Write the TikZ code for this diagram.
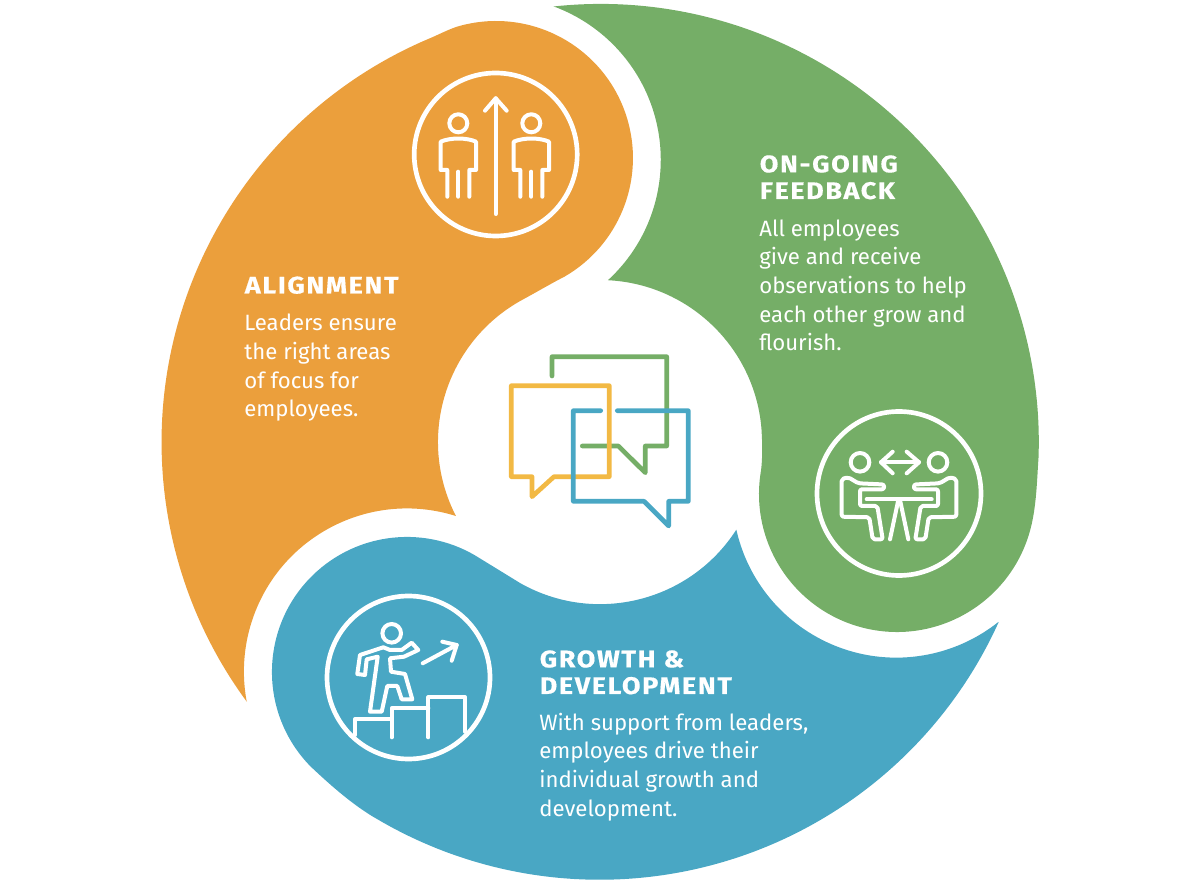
\documentclass[tikz,border=0pt]{standalone}
\usepackage{fontspec}
\setmainfont{Fira Sans}
\newfontfamily\headfont[LetterSpace=7,FakeStretch=1.12,FakeBold=0.5]{Fira Sans Bold}
\definecolor{cOrange}{HTML}{EB9F3C}
\definecolor{cGreen}{HTML}{75AE67}
\definecolor{cBlue}{HTML}{49A7C4}
\definecolor{cYellow}{HTML}{F2B944}
\tikzset{
  icon/.style={draw=white,line width=2.4pt,line join=round,line cap=round,fill=none},
  ring/.style={draw=white,line width=2.8pt,fill=none},
  bubble/.style={line width=2.8pt,line join=round,line cap=round,fill=none},
  headtext/.style={text=white,anchor=base west,inner sep=0pt,align=left,font=\headfont\fontsize{14.4}{16}\selectfont},
  bodytext/.style={text=white,anchor=base west,inner sep=0pt,align=left,font=\fontsize{13.3}{17.2}\selectfont}
}
\begin{document}
\begin{tikzpicture}[x=0.6pt,y=-0.6pt]
\useasboundingbox (0,0) rectangle (1200,884);
% orange
\fill[cOrange] (247,702)
  arc[start angle=143.6,end angle=247,radius=438]
  .. controls (438,35) and (451,28) .. (460.5,25.7)
  arc[start angle=255,end angle=420,radius=137]
  .. controls (552,283) and (535,293) .. (522.7,299.6)
  arc[start angle=241.5,end angle=152.8,radius=162]
  arc[start angle=-72.5,end angle=-190.6,radius=163]
  -- cycle;
% green
\fill[cGreen] (553.5,6.5)
  arc[start angle=-96.2,end angle=2,radius=438]
  .. controls (1036.9,481) and (1036.5,506.5) .. (1030.3,529.7)
  arc[start angle=15,end angle=190,radius=138]
  .. controls (762.5,458) and (762.5,445) .. (761.4,427.9)
  arc[start angle=-5,end angle=-87.2,radius=162]
  arc[start angle=47.4,end angle=-69.3,radius=163.5]
  -- cycle;
% blue
\fill[cBlue] (998.7,622)
  arc[start angle=24.3,end angle=120.5,radius=438]
  .. controls (352,805) and (326,781) .. (310.5,766.4)
  arc[start angle=135.6,end angle=303,radius=135]
  .. controls (494,567) and (507,575) .. (520,583)
  arc[start angle=119.6,end angle=32.7,radius=162]
  arc[start angle=167.3,end angle=51.7,radius=164]
  -- cycle;
% centre bubbles
\draw[bubble,cGreen] (552,376) -- (552,356.7) -- (666.7,356.7) -- (666.7,446) -- (645.3,446) -- (645.3,472.7) -- (618.3,446) -- (582.3,446);
\draw[bubble,cYellow] (511.3,385.7) -- (609.3,385.7) -- (609.3,476.7) -- (554,476.7) -- (532,496.7) -- (532,476.7) -- (511.3,476.7) -- cycle;
\draw[bubble,cBlue] (600.7,410.7) -- (573.3,410.7) -- (573.3,501.3) -- (644,501.3) -- (668.7,526) -- (668.7,501.3) -- (688.3,501.3) -- (688.3,410.7) -- (617.3,410.7);
% alignment icon
\draw[ring] (495.7,154.5) circle[radius=81.5];
\draw[icon] (495.7,214) -- (495.7,98.3);
\draw[icon] (485,110.7) -- (495.7,98.3) -- (506.7,110.7);
\foreach \dx in {0,73}{
  \begin{scope}[shift={(\dx,0)}]
    \draw[icon] (458.3,123.3) circle[radius=9];
    \draw[icon] (447.3,196.7) -- (447.3,170) -- (440.7,170) -- (440.7,141.7) .. controls (450,137.5) and (467,137.5) .. (476,141.7) -- (476,170) -- (469.3,170) -- (469.3,196.7);
    \draw[icon] (458.3,171.7) -- (458.3,196.7);
  \end{scope}
}
% feedback icon
\draw[ring] (899,493.5) circle[radius=82];
\draw[icon] (881,462.3) -- (919,462.3);
\draw[icon] (892.7,451.7) -- (881,462.3) -- (892.7,473.3);
\draw[icon] (906.7,451.7) -- (919,462.3) -- (906.7,473.3);
\draw[icon] (866.7,499.3) -- (931.7,499.3);
\draw[icon] (890,539.3) -- (898.3,500);
\draw[icon] (908.3,539.3) -- (900,500);
\foreach \s in {1,-1}{
  \begin{scope}[shift={(899,0)},xscale=\s]
    \draw[icon] (-39,462.3) circle[radius=9.3];
    \draw[icon,rounded corners=1.2pt] (-50.7,477.3) -- (-57.3,479) -- (-57.3,516.7) -- (-29.7,517.3) -- (-26.3,539.3) -- (-16.3,539.3) -- (-21.7,506) -- (-39,506) -- (-39,489.3) -- (-15,489.3) -- (-15,484.5) -- (-40.7,483.3) -- cycle;
  \end{scope}
}
% growth icon
\draw[ring] (408.5,677.5) circle[radius=81.5];
\draw[icon] (391.7,633.3) circle[radius=9.3];
\draw[icon] (383.3,647.3) -- (360,655) -- (357.3,674) -- (365,675) -- (366.7,659.3) -- (377.7,656.7) -- (370,711.7) -- (381.7,711.7) -- (387.3,686) -- (397.3,686) -- (401.7,699.3) -- (412.3,699.3) -- (405,674) -- (391,671.7) -- (390,658.3) -- (404,656.7) -- (418.3,650) -- (411.7,642.7) -- (401.7,650) -- (390,650) -- cycle;
\draw[icon] (422.7,663.3) -- (456.7,645);
\draw[icon] (442.3,641.7) -- (456.7,645) -- (451.7,660.7);
\draw[icon] (355,735) -- (355,719.3) -- (391.7,719.3);
\draw[icon] (391.7,737.3) -- (391.7,708.3) -- (428.3,708.3);
\draw[icon] (428.3,737.3) -- (428.3,697.3) -- (465,697.3) -- (465,731.7);
% text
\node[headtext] (alignhead) at (244.5,293.5) {ALIGNMENT};
\node[bodytext] (alignbody) at (244,416.7) {Leaders ensure\\the right areas\\of focus for\\employees.};
\node[headtext] (feedhead) at (759.5,199) {ON-GOING\\FEEDBACK};
\node[bodytext] (feedbody) at (759,351) {All employees\\give and receive\\observations to help\\each other grow and\\flourish.};
\node[headtext] (growhead) at (539.5,694) {GROWTH \&\\DEVELOPMENT};
\node[bodytext] (growbody) at (539,816) {With support from leaders,\\employees drive their\\individual growth and\\development.};
\end{tikzpicture}
\end{document}
